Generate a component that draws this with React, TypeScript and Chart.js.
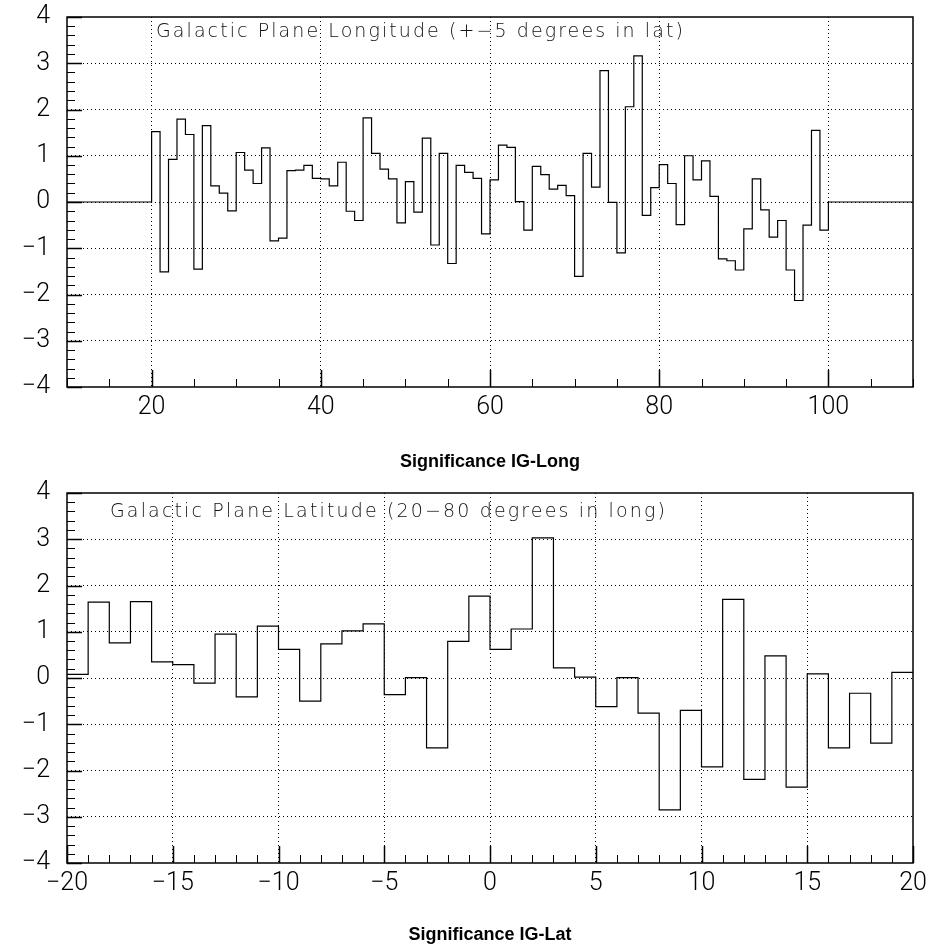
import { useEffect, useRef } from 'react';
import { Chart, registerables } from 'chart.js';

Chart.register(...registerables);

// ---------- Data: top panel (Galactic longitude) ----------
const lonBinStart = 10;
const lonBinWidth = 1;
const lonValues = [
  0, 0, 0, 0, 0, 0, 0, 0, 0, 0,
  1.52, -1.51, 0.92, 1.79, 1.46, -1.45, 1.65, 0.35, 0.19, -0.19,
  1.07, 0.69, 0.40, 1.17, -0.84, -0.78, 0.68, 0.69, 0.79, 0.51,
  0.50, 0.35, 0.86, -0.20, -0.40, 1.82, 1.05, 0.71, 0.50, -0.45,
  0.44, -0.22, 1.38, -0.93, 1.05, -1.33, 0.79, 0.64, 0.51, -0.69,
  0.48, 1.23, 1.18, 0.01, -0.61, 0.77, 0.59, 0.28, 0.36, 0.14,
  -1.61, 1.05, 0.32, 2.84, -0.01, -1.10, 2.06, 3.16, -0.29, 0.31,
  0.81, 0.40, -0.49, 1.00, 0.48, 0.89, 0.12, -1.23, -1.27, -1.47,
  -0.58, 0.50, -0.17, -0.76, -0.40, -1.47, -2.13, -0.50, 1.55, -0.61,
  0, 0, 0, 0, 0, 0, 0, 0, 0, 0,
];
const lonTickValues = [20, 40, 60, 80, 100];
const lonTickLabels = ['20', '40', '60', '80', '100'];
const lonTitle = 'Galactic Plane Longitude (+\u22125 degrees in lat)';
const lonAxisTitle = 'Significance IG-Long';

// ---------- Data: bottom panel (Galactic latitude) ----------
const latBinStart = -20;
const latBinWidth = 1;
const latValues = [
  0.08, 1.64, 0.76, 1.65, 0.35, 0.29, -0.11, 0.95, -0.41, 1.12,
  0.62, -0.50, 0.74, 1.02, 1.17, -0.36, 0.01, -1.51, 0.79, 1.77,
  0.62, 1.06, 3.03, 0.22, 0.02, -0.62, 0.01, -0.76, -2.85, -0.70,
  -1.92, 1.70, -2.19, 0.48, -2.36, 0.09, -1.51, -0.33, -1.41, 0.12,
];
const latTickValues = [-20, -15, -10, -5, 0, 5, 10, 15, 20];
const latTickLabels = ['\u221220', '\u221215', '\u221210', '\u22125', '0', '5', '10', '15', '20'];
const latTitle = 'Galactic Plane Latitude (20\u221280 degrees in long)';
const latAxisTitle = 'Significance IG-Lat';

// ---------- Shared y axis ----------
const yTickValues = [-4, -3, -2, -1, 0, 1, 2, 3, 4];
const yTickLabels = ['\u22124', '\u22123', '\u22122', '\u22121', '0', '1', '2', '3', '4'];

function histPoints(start: number, width: number, values: number[]) {
  const pts = values.map((v, i) => ({ x: start + i * width, y: v }));
  pts.push({ x: start + values.length * width, y: values[values.length - 1] });
  return pts;
}

const hbookPlugin = {
  id: 'hbook',
  afterDraw(chart: any, _args: any, opts: any) {
    const { ctx, chartArea } = chart;
    const { left, right, top, bottom } = chartArea;
    const xs = chart.scales.x;
    const ys = chart.scales.y;
    ctx.save();
    ctx.strokeStyle = '#000';
    ctx.setLineDash([]);
    // y ticks (inside, from left edge)
    for (let k = 0; ; k++) {
      const v = ys.min + k * opts.yMinor;
      if (v > ys.max + 1e-9) break;
      const r = v / opts.yMajor;
      const major = Math.abs(r - Math.round(r)) < 1e-6;
      const py = Math.round(ys.getPixelForValue(v)) + 0.5;
      ctx.lineWidth = major ? 1.5 : 1;
      ctx.beginPath();
      ctx.moveTo(left, py);
      ctx.lineTo(left + (major ? 15 : 8), py);
      ctx.stroke();
    }
    // x ticks (inside, from bottom edge)
    for (let k = 0; ; k++) {
      const v = xs.min + k * opts.xMinor;
      if (v > xs.max + 1e-9) break;
      const r = v / opts.xMajor;
      const major = Math.abs(r - Math.round(r)) < 1e-6;
      const px = Math.round(xs.getPixelForValue(v)) + 0.5;
      ctx.lineWidth = major ? 1.5 : 1;
      ctx.beginPath();
      ctx.moveTo(px, bottom);
      ctx.lineTo(px, bottom - (major ? 17 : 8));
      ctx.stroke();
    }
    // frame
    ctx.lineWidth = 1.5;
    ctx.strokeRect(left, top, right - left, bottom - top);
    // in-plot title
    ctx.fillStyle = '#111';
    ctx.font = '200 19px "DejaVu Sans", sans-serif';
    ctx.textAlign = 'left';
    ctx.textBaseline = 'alphabetic';
    (ctx as any).letterSpacing = '0px';
    const w = ctx.measureText(opts.title).width;
    const sp = (opts.titleWidth - w) / (opts.title.length - 1);
    (ctx as any).letterSpacing = sp.toFixed(2) + 'px';
    ctx.fillText(opts.title, left + opts.titleDx, top + opts.titleDy);
    ctx.restore();
  },
};

function makeConfig(p: {
  points: { x: number; y: number }[];
  xMin: number;
  xMax: number;
  xTicks: number[];
  xLabels: string[];
  axisTitle: string;
  title: string;
  titleDx: number;
  titleDy: number;
  titleWidth: number;
  xMinor: number;
  xMajor: number;
  height: number;
}) {
  const tickFont = { family: 'Roboto, "DejaVu Sans", sans-serif', size: 25, weight: '300' as any, lineHeight: 1.2 };
  return {
    type: 'line' as const,
    data: {
      datasets: [
        {
          data: p.points,
          stepped: 'before' as const,
          borderColor: '#000',
          borderWidth: 1.2,
          pointRadius: 0,
          fill: false,
          tension: 0,
        },
      ],
    },
    options: {
      animation: false as const,
      responsive: false,
      maintainAspectRatio: false,
      events: [],
      layout: { padding: { left: 0, top: 17, right: 22, bottom: 0 } },
      plugins: {
        legend: { display: false },
        tooltip: { enabled: false },
        title: { display: false },
        hbook: {
          title: p.title,
          titleDx: p.titleDx,
          titleDy: p.titleDy,
          titleWidth: p.titleWidth,
          xMinor: p.xMinor,
          xMajor: p.xMajor,
          yMinor: 0.2,
          yMajor: 1,
        },
      },
      scales: {
        x: {
          type: 'linear' as const,
          min: p.xMin,
          max: p.xMax,
          afterBuildTicks: (s: any) => {
            s.ticks = p.xTicks.map((v) => ({ value: v }));
          },
          afterFit: (s: any) => {
            s.height = p.height - 17 - 370;
            s.paddingLeft = 0;
            s.paddingRight = 0;
          },
          ticks: {
            callback: (_v: any, i: number) => p.xLabels[i],
            autoSkip: false,
            maxRotation: 0,
            minRotation: 0,
            padding: 6,
            color: '#000',
            font: tickFont,
          },
          grid: {
            drawTicks: false,
            lineWidth: 1,
            color: (c: any) =>
              c.tick && (c.tick.value === p.xMin || c.tick.value === p.xMax) ? 'rgba(0,0,0,0)' : '#000',
          },
          border: { display: false, dash: [1, 3] },
          title: {
            display: true,
            text: p.axisTitle,
            color: '#000',
            font: { family: '"Liberation Sans", Arial, sans-serif', size: 18, weight: 'bold' as any, lineHeight: 1.2 },
            padding: { top: 0, bottom: 3 },
          },
        },
        y: {
          type: 'linear' as const,
          min: -4,
          max: 4,
          afterBuildTicks: (s: any) => {
            s.ticks = yTickValues.map((v) => ({ value: v }));
          },
          afterFit: (s: any) => {
            s.width = 67;
            s.paddingTop = 0;
            s.paddingBottom = 0;
          },
          ticks: {
            callback: (_v: any, i: number) => yTickLabels[i],
            autoSkip: false,
            padding: 17,
            color: '#000',
            font: tickFont,
          },
          grid: {
            drawTicks: false,
            lineWidth: 1,
            color: (c: any) =>
              c.tick && (c.tick.value === -4 || c.tick.value === 4) ? 'rgba(0,0,0,0)' : '#000',
          },
          border: { display: false, dash: [1, 3] },
        },
      },
    },
    plugins: [hbookPlugin],
  };
}

export default function App() {
  const topRef = useRef<HTMLCanvasElement | null>(null);
  const botRef = useRef<HTMLCanvasElement | null>(null);

  useEffect(() => {
    const c1 = new Chart(
      topRef.current as HTMLCanvasElement,
      makeConfig({
        points: histPoints(lonBinStart, lonBinWidth, lonValues),
        xMin: 10,
        xMax: 110,
        xTicks: lonTickValues,
        xLabels: lonTickLabels,
        axisTitle: lonAxisTitle,
        title: lonTitle,
        titleDx: 89,
        titleDy: 20,
        titleWidth: 527,
        xMinor: 5,
        xMajor: 20,
        height: 476,
      }) as any
    );
    const c2 = new Chart(
      botRef.current as HTMLCanvasElement,
      makeConfig({
        points: histPoints(latBinStart, latBinWidth, latValues),
        xMin: -20,
        xMax: 20,
        xTicks: latTickValues,
        xLabels: latTickLabels,
        axisTitle: latAxisTitle,
        title: latTitle,
        titleDx: 43,
        titleDy: 24,
        titleWidth: 555,
        xMinor: 1,
        xMajor: 5,
        height: 473,
      }) as any
    );
    return () => {
      c1.destroy();
      c2.destroy();
    };
  }, []);

  return (
    <div style={{ position: 'absolute', left: 0, top: 0, width: 935, height: 949, background: '#fff' }}>
      <canvas
        ref={topRef}
        width={935}
        height={476}
        style={{ position: 'absolute', left: 0, top: 0, width: 935, height: 476, display: 'block' }}
      />
      <canvas
        ref={botRef}
        width={935}
        height={473}
        style={{ position: 'absolute', left: 0, top: 476, width: 935, height: 473, display: 'block' }}
      />
    </div>
  );
}
